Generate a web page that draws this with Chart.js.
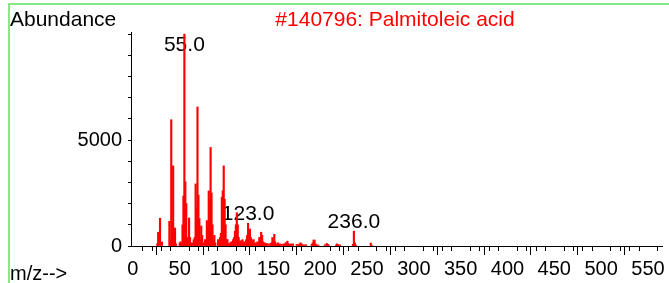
<!DOCTYPE html>
<html>
<head>
<meta charset="utf-8">
<script src="https://cdn.jsdelivr.net/npm/chart.js@4.4.1/dist/chart.umd.min.js"></script>
<style>
  html, body { margin: 0; padding: 0; background: #ffffff; }
  .chart-wrapper { position: relative; width: 669px; height: 283px; }
</style>
</head>
<body>
<div class="chart-wrapper">
  <canvas id="spectrum_chart" width="669" height="283"></canvas>
</div>
<script>
// spectrum (m/z and abundance)
var mz_values = [
  26, 27, 29, 31, 39, 40, 41, 42, 43, 44, 45, 46,
  50, 51, 52, 53, 54, 55, 56, 57, 58, 59, 60, 61, 62, 63,
  65, 66, 67, 68, 69, 70, 71, 72, 73, 74, 75,
  77, 78, 79, 80, 81, 82, 83, 84, 85, 86, 87, 88,
  91, 92, 93, 94, 95, 96, 97, 98, 99, 100, 101, 102, 103,
  104, 105, 106, 107, 108, 109, 110, 111, 112, 113, 114, 115, 116, 117, 118,
  119, 120, 121, 122, 123, 124, 125, 126, 127, 128, 129, 130, 131, 132,
  133, 134, 135, 136, 137, 138, 139, 140, 141, 142, 143, 145, 147, 148,
  149, 150, 151, 152, 153, 154, 155, 156, 157, 159,
  161, 162, 163, 164, 165, 166, 167, 168, 169, 171, 175, 177, 178, 179, 180, 181, 183, 185,
  191, 192, 193, 194, 195, 196, 198, 205, 207, 208, 209, 217, 218, 219, 221,
  235, 236, 237, 238, 254, 255
];
var abundance_values = [
  100, 650, 1310, 190, 1170, 250, 5960, 1150, 3780, 400, 850, 100,
  150, 200, 100, 1000, 2360, 10000, 3030, 2000, 400, 300, 1320, 400, 100, 150,
  300, 400, 2930, 1800, 6560, 2400, 1300, 300, 950, 500, 150,
  300, 200, 1200, 900, 2600, 2200, 4650, 2500, 1000, 300, 500, 150,
  300, 150, 400, 600, 2300, 2600, 3780, 2200, 1000, 300, 300, 100, 120,
  150, 200, 150, 300, 400, 700, 1000, 1570, 1000, 400, 200, 250, 120, 300, 100,
  200, 150, 300, 500, 1070, 700, 800, 400, 300, 150, 300, 120, 150, 100,
  200, 150, 400, 400, 650, 500, 200, 100, 150, 80, 120, 100, 120, 150,
  400, 250, 550, 200, 100, 80, 150, 60, 100, 80,
  100, 60, 150, 150, 230, 120, 80, 60, 100, 100, 80, 60, 100, 150, 100, 60, 60, 60,
  80, 150, 280, 280, 100, 60, 50, 60, 120, 80, 50, 50, 100, 60, 60,
  80, 700, 150, 50, 140, 40
];
var labelled_peaks = [55, 123, 236];

var x_tick_labels = [0, 50, 100, 150, 200, 250, 300, 350, 400, 450, 500, 550];
var y_tick_values = [0, 1000, 2000, 3000, 4000, 5000, 6000, 7000, 8000, 9000, 10000];
var y_tick_labels = [0, 5000];

var chart_title = "#140796: Palmitoleic acid";
var y_axis_name = "Abundance";
var x_axis_name = "m/z-->";

var font_family = "'Liberation Sans', Arial, sans-serif";
var font_size = 20;
var header_font_size = 21;

// frame, axis names, minor x ticks and peak labels
var decorations = {
  id: "decorations",
  beforeDatasetsDraw: function(chart) {
    var ctx = chart.ctx;
    var area = chart.chartArea;
    var xs = chart.scales.x;
    var ys = chart.scales.y;
    ctx.save();
    ctx.font = header_font_size + "px " + font_family;
    ctx.fillStyle = "#000000";
    ctx.textAlign = "center";
    ctx.textBaseline = "alphabetic";
    labelled_peaks.forEach(function(mz) {
      var idx = mz_values.indexOf(mz);
      var px = xs.getPixelForValue(mz);
      var py = ys.getPixelForValue(abundance_values[idx]) - 3;
      if (py < area.top + 19) {
        py = area.top + 19;
      }
      ctx.fillText(mz.toFixed(1), px, py);
    });
    ctx.restore();
  },
  afterDraw: function(chart) {
    var ctx = chart.ctx;
    var area = chart.chartArea;
    var xs = chart.scales.x;
    ctx.save();

    // green frame
    ctx.fillStyle = "#88e888";
    ctx.fillRect(8, 3, chart.width - 8, 2);
    ctx.fillRect(8, 3, 2, chart.height - 3);

    // minor ticks every 10
    ctx.strokeStyle = "#000000";
    ctx.lineWidth = 1;
    ctx.beginPath();
    for (var m = 10; m <= xs.max; m += 10) {
      if (m % 50 === 0) continue;
      var px = Math.round(xs.getPixelForValue(m)) + 0.5;
      ctx.moveTo(px, area.bottom);
      ctx.lineTo(px, area.bottom + 5);
    }
    ctx.stroke();

    ctx.font = header_font_size + "px " + font_family;
    ctx.textBaseline = "alphabetic";
    ctx.fillStyle = "#000000";
    ctx.textAlign = "left";
    ctx.fillText(y_axis_name, 10, 26);
    ctx.font = font_size + "px " + font_family;
    ctx.fillText(x_axis_name, 10, 280);

    ctx.font = header_font_size + "px " + font_family;
    ctx.fillStyle = "#ff0000";
    ctx.textAlign = "center";
    ctx.fillText(chart_title, 395, 26);
    ctx.restore();
  }
};

var ctx = document.getElementById("spectrum_chart").getContext("2d");
var spectrumChart = new Chart(ctx, {
  type: "bar",
  data: {
    datasets: [{
      data: mz_values.map(function(m, i) { return { x: m, y: abundance_values[i] }; }),
      backgroundColor: "#ff0000",
      borderWidth: 0,
      barThickness: 1.5
    }]
  },
  options: {
    responsive: false,
    animation: false,
    devicePixelRatio: 1,
    layout: {
      padding: { left: 0, right: 7, top: 32, bottom: 0 }
    },
    plugins: {
      legend: { display: false },
      tooltip: { enabled: false },
      title: { display: false }
    },
    scales: {
      x: {
        type: "linear",
        position: "bottom",
        min: -2,
        max: 565,
        offset: false,
        afterBuildTicks: function(scale) {
          scale.ticks = x_tick_labels.map(function(v) { return { value: v }; });
        },
        afterFit: function(scale) {
          scale.height = 37;
        },
        ticks: {
          autoSkip: false,
          maxRotation: 0,
          padding: 2,
          color: "#000000",
          font: { family: font_family, size: font_size },
          callback: function(value) { return String(value); }
        },
        grid: {
          drawOnChartArea: false,
          drawTicks: true,
          tickLength: 9,
          color: "#000000"
        },
        border: { display: true, color: "#000000", width: 1 }
      },
      y: {
        type: "linear",
        position: "left",
        min: 0,
        max: 10100,
        afterBuildTicks: function(scale) {
          scale.ticks = y_tick_values.map(function(v) { return { value: v }; });
        },
        afterFit: function(scale) {
          scale.width = 131;
        },
        ticks: {
          autoSkip: false,
          padding: 6,
          color: "#000000",
          font: { family: font_family, size: font_size },
          callback: function(value) {
            return y_tick_labels.indexOf(value) >= 0 ? String(value) : "";
          }
        },
        grid: {
          drawOnChartArea: false,
          drawTicks: true,
          tickLength: 3,
          color: "#000000"
        },
        border: { display: true, color: "#000000", width: 1 }
      }
    }
  },
  plugins: [decorations]
});
</script>
</body>
</html>
